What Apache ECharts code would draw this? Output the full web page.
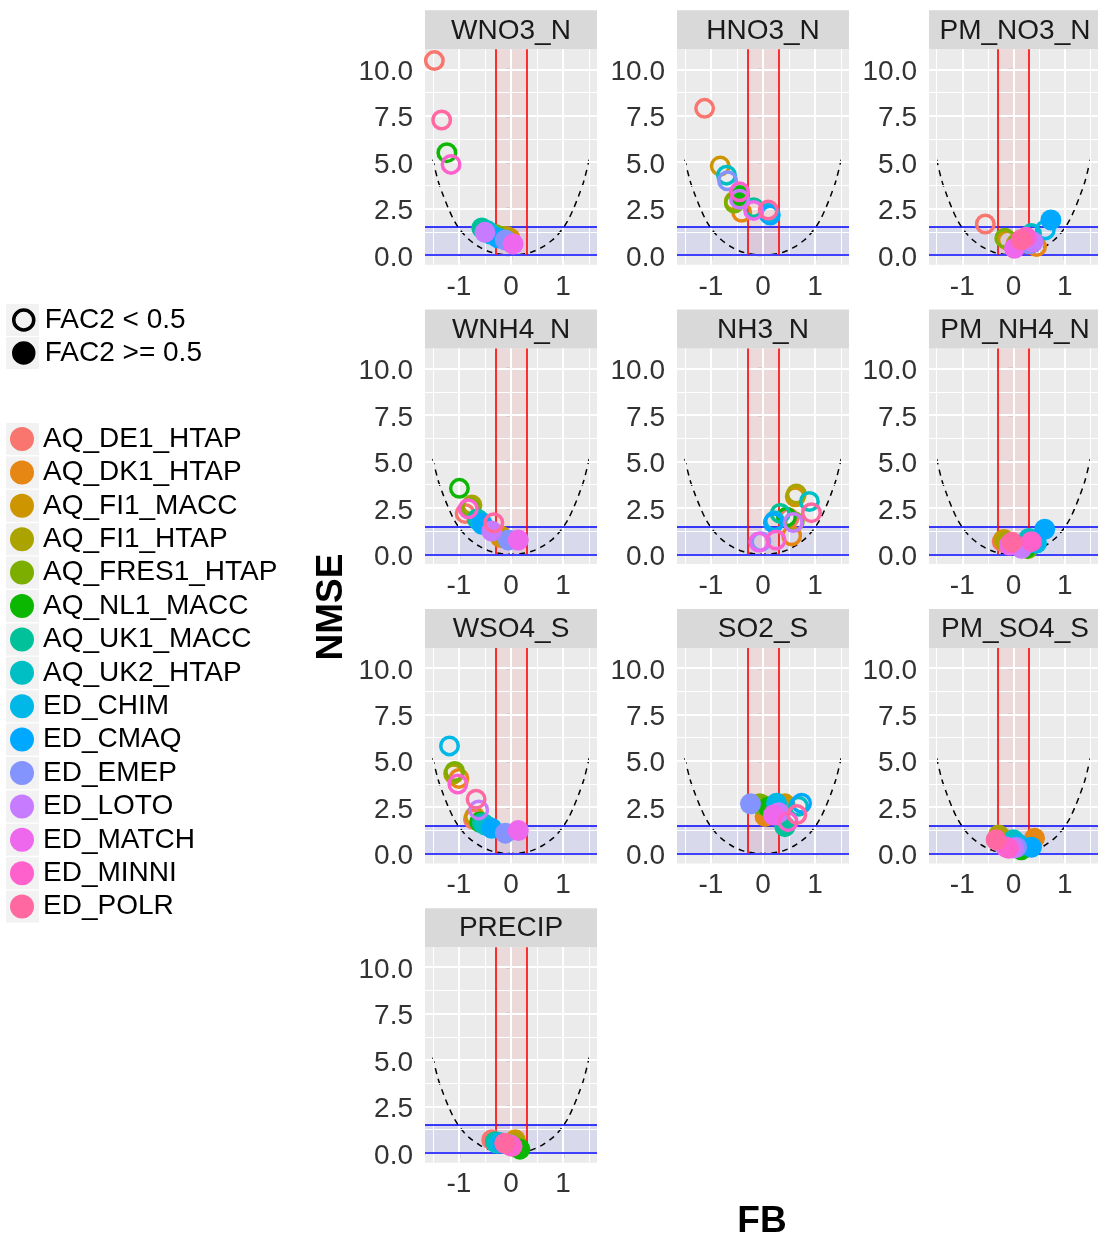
<!DOCTYPE html>
<html><head><meta charset="utf-8">
<script src="https://cdn.jsdelivr.net/npm/echarts@6/dist/echarts.min.js"></script>
<style>html,body{margin:0;padding:0;background:#fff}#chart{width:1098px;height:1240px}</style>
</head><body><div id="chart"></div>
<script>
// ---------- data ----------
const models = ['AQ_DE1_HTAP','AQ_DK1_HTAP','AQ_FI1_MACC','AQ_FI1_HTAP','AQ_FRES1_HTAP','AQ_NL1_MACC','AQ_UK1_MACC','AQ_UK2_HTAP','ED_CHIM','ED_CMAQ','ED_EMEP','ED_LOTO','ED_MATCH','ED_MINNI','ED_POLR'];
const modelColors = ['#F8766D','#E68613','#CD9600','#ABA300','#7CAE00','#0CB702','#00C19A','#00BFC4','#00B8E7','#00A9FF','#8494FF','#C77CFF','#ED68ED','#FF61CC','#FF68A1'];
const panels = ['WNO3_N','HNO3_N','PM_NO3_N','WNH4_N','NH3_N','PM_NH4_N','WSO4_S','SO2_S','PM_SO4_S','PRECIP'];
const fac2Labels = ['FAC2 < 0.5','FAC2 >= 0.5'];

// FB, NMSE and FAC2 flag (1 = FAC2 >= 0.5) per model, in model order
const fb_WNO3_N   = [-1.47,-0.02,-0.08,-0.15,-0.30,-1.23,-0.56,-0.45,-0.38,-0.25,-0.11,-0.50, 0.04,-1.15,-1.33];
const nmse_WNO3_N = [10.47,0.90,1.00,1.00,1.10,5.51,1.45,1.30,1.10,0.92,0.81,1.22,0.59,4.88,7.27];
const fac2_WNO3_N = [0,1,1,1,1,0,1,1,1,1,1,1,1,0,0];

const fb_HNO3_N   = [-1.12,-0.41,-0.82,-0.55,-0.55,-0.45,-0.18,-0.70, 0.10, 0.14,-0.68,-0.45,-0.18,-0.45, 0.10];
const nmse_HNO3_N = [7.90,2.30,4.79,2.90,2.80,3.20,2.55,4.30,2.25,2.15,4.00,3.00,2.40,3.40,2.42];
const fac2_HNO3_N = [0,0,0,0,0,1,0,0,0,0,0,0,0,0,0];

const fb_PM_NO3_N   = [-0.55,0.45,-0.12,0.05,-0.17,0.10,0.25,0.35,0.62,0.73,0.30,0.38,0.02,0.25,0.15];
const nmse_PM_NO3_N = [1.67,0.45,0.80,0.60,0.90,0.60,0.80,1.15,1.35,1.89,0.60,0.70,0.36,0.95,0.82];
const fac2_PM_NO3_N = [0,0,0,1,0,1,1,0,0,1,1,1,1,1,1];

const fb_WNH4_N   = [-0.88,-0.20,-0.20,-0.75,-0.78,-0.99,-0.65,-0.60,-0.55,-0.56,-0.05,-0.37,0.14,-0.82,-0.33];
const nmse_WNH4_N = [2.20,0.90,1.00,2.65,2.50,3.55,1.90,1.80,1.60,1.67,0.77,1.25,0.77,2.45,1.70];
const fac2_WNH4_N = [0,1,1,0,0,0,1,1,1,1,1,1,1,0,0];

const fb_NH3_N   = [0.50,0.55,0.62,0.64,0.60,0.45,0.33,0.89,0.22,0.20,-0.04,0.58,-0.08,0.25,0.93];
const nmse_NH3_N = [1.95,1.00,3.10,3.25,1.75,2.00,2.20,2.84,1.80,1.70,0.68,1.71,0.66,0.77,2.24];
const fac2_NH3_N = [0,0,0,0,0,0,0,0,0,0,0,0,0,0,0];

const fb_PM_NH4_N   = [-0.22,-0.20,-0.19,-0.15,0.28,0.25,0.28,0.30,0.45,0.61,0.15,0.16,-0.08,0.35,-0.03];
const nmse_PM_NH4_N = [0.68,0.75,0.80,0.70,0.30,0.35,0.60,0.85,0.60,1.35,0.35,0.32,0.50,0.68,0.65];
const fac2_PM_NH4_N = [1,1,1,1,1,1,1,1,1,1,1,1,1,1,1];

const fb_WSO4_S   = [-0.72,-1.00,-0.70,-1.10,-1.08,-0.60,-0.55,-0.50,-1.18,-0.37,-0.11,-0.62,0.14,-1.02,-0.67];
const nmse_WSO4_S = [1.85,4.05,2.00,4.30,4.42,1.70,1.65,1.55,5.80,1.36,1.10,2.35,1.24,3.75,2.93];
const fac2_WSO4_S = [0,0,0,0,0,1,1,1,0,1,1,0,1,0,0];

const fb_SO2_S   = [0.30,0.04,0.42,0.00,-0.06,0.10,0.42,0.68,0.26,0.74,-0.24,0.30,0.20,0.48,0.65];
const nmse_SO2_S = [2.30,2.00,2.68,2.60,2.68,2.50,1.45,2.55,2.71,2.71,2.68,2.20,2.08,1.72,2.10];
const fac2_SO2_S = [1,1,1,1,1,1,1,0,1,0,1,1,1,0,0];

const fb_PM_SO4_S   = [-0.30,0.41,-0.25,-0.29,0.15,0.15,0.00,0.00,0.10,0.35,0.06,0.00,-0.15,-0.10,-0.34];
const nmse_PM_SO4_S = [0.80,0.83,0.90,1.00,0.30,0.20,0.60,0.74,0.50,0.34,0.34,0.30,0.35,0.29,0.74];
const fac2_PM_SO4_S = [1,1,1,1,1,1,1,1,1,1,1,1,1,1,1];

const fb_PRECIP   = [-0.37,0.05,0.08,0.10,0.12,0.17,-0.30,-0.27,-0.20,-0.15,-0.05,0.00,-0.02,0.02,-0.12];
const nmse_PRECIP = [0.70,0.60,0.70,0.50,0.30,0.20,0.60,0.52,0.55,0.50,0.45,0.40,0.40,0.35,0.52];
const fac2_PRECIP = [1,1,1,1,1,1,1,1,1,1,1,1,1,1,1];

// dashed reference curve
const curveFB   = [-1.5,-1.4,-1.3,-1.2,-1.1,-1.0,-0.9,-0.8,-0.6,-0.4,-0.2,0,0.2,0.4,0.6,0.8,0.9,1.0,1.1,1.2,1.3,1.4,1.5];
const curveNMSE = [5.14,4.0,3.2,2.5,1.9,1.45,1.1,0.82,0.42,0.16,0.04,0,0.04,0.16,0.42,0.82,1.1,1.45,1.9,2.5,3.2,4.0,5.14];

// reference limits
const fbLimits = [-0.3, 0.3];
const nmseLimits = [0, 1.5];

// ticks
const xTicks = [-1, 0, 1];
const xMinor = [-1.5, -0.5, 0.5, 1.5];
const yTicks = [0, 2.5, 5, 7.5, 10];
const yMinor = [1.25, 3.75, 6.25, 8.75];

const panelData = {
  WNO3_N:[fb_WNO3_N,nmse_WNO3_N,fac2_WNO3_N],
  HNO3_N:[fb_HNO3_N,nmse_HNO3_N,fac2_HNO3_N],
  PM_NO3_N:[fb_PM_NO3_N,nmse_PM_NO3_N,fac2_PM_NO3_N],
  WNH4_N:[fb_WNH4_N,nmse_WNH4_N,fac2_WNH4_N],
  NH3_N:[fb_NH3_N,nmse_NH3_N,fac2_NH3_N],
  PM_NH4_N:[fb_PM_NH4_N,nmse_PM_NH4_N,fac2_PM_NH4_N],
  WSO4_S:[fb_WSO4_S,nmse_WSO4_S,fac2_WSO4_S],
  SO2_S:[fb_SO2_S,nmse_SO2_S,fac2_SO2_S],
  PM_SO4_S:[fb_PM_SO4_S,nmse_PM_SO4_S,fac2_PM_SO4_S],
  PRECIP:[fb_PRECIP,nmse_PRECIP,fac2_PRECIP]
};

// ---------- layout ----------
const FONT = '"Liberation Sans", Arial, sans-serif';
const xMin = -1.65, xMax = 1.65, yMin = -0.53, yMax = 11.08;
const colLeft = [425, 677, 929];
const rowTop = [49.3, 348.6, 647.9, 947.2];
const panelW = 172, panelH = 215.5, stripH = 39;
const tickColor = '#333333';

const grids = [], xAxes = [], yAxes = [], series = [], graphics = [];

const lineMark = (lines) => ({
  silent: true, symbol: ['none','none'], label: {show: false}, emphasis: {disabled: true},
  animation: false, data: lines
});

panels.forEach((name, i) => {
  const r = Math.floor(i / 3), c = i % 3;
  const left = colLeft[c], top = rowTop[r];
  grids.push({left, top, width: panelW, height: panelH, show: true, backgroundColor: '#EBEBEB', borderWidth: 0});
  xAxes.push({
    type: 'value', gridIndex: i, min: xMin, max: xMax,
    splitLine: {show: false}, axisLine: {show: false},
    axisTick: {show: true, customValues: xTicks, length: 5, lineStyle: {color: tickColor, width: 1.2}},
    axisLabel: {customValues: xTicks, fontSize: 28, fontFamily: FONT, color: tickColor, margin: 8,
      formatter: v => String(v)}
  });
  yAxes.push({
    type: 'value', gridIndex: i, min: yMin, max: yMax,
    splitLine: {show: false}, axisLine: {show: false},
    axisTick: {show: true, customValues: yTicks, length: 5, lineStyle: {color: tickColor, width: 1.2}},
    axisLabel: {customValues: yTicks, margin: 12,
      formatter: v => '{v|' + v.toFixed(1) + '}',
      rich: {v: {fontSize: 28, fontFamily: FONT, color: tickColor, padding: [6, 0, 0, 0]}}}
  });
  const white = (w) => ({color: '#FFFFFF', width: w, type: 'solid'});
  // grid lines
  series.push({
    type: 'line', xAxisIndex: i, yAxisIndex: i, data: [], z: 1, silent: true,
    markLine: lineMark([
      ...xMinor.map(v => ({xAxis: v, lineStyle: white(1)})),
      ...yMinor.map(v => ({yAxis: v, lineStyle: white(1)})),
      ...xTicks.map(v => ({xAxis: v, lineStyle: white(2)})),
      ...yTicks.map(v => ({yAxis: v, lineStyle: white(2)}))
    ])
  });
  // shaded areas
  series.push({
    type: 'line', xAxisIndex: i, yAxisIndex: i, data: [], z: 2, silent: true,
    markArea: {
      silent: true, emphasis: {disabled: true}, label: {show: false},
      data: [
        [{coord: [fbLimits[0], nmseLimits[0]], itemStyle: {color: 'rgba(255,0,0,0.075)'}}, {coord: [fbLimits[1], yMax]}],
        [{coord: [xMin, nmseLimits[0]], itemStyle: {color: 'rgba(0,0,255,0.075)'}}, {coord: [xMax, nmseLimits[1]]}]
      ]
    }
  });
  // reference lines
  series.push({
    type: 'line', xAxisIndex: i, yAxisIndex: i, data: [], z: 3, silent: true,
    markLine: lineMark([
      ...nmseLimits.map(v => ({yAxis: v, lineStyle: {color: '#0000FF', width: 1.6, type: 'solid'}})),
      ...fbLimits.map(v => [{coord: [v, nmseLimits[0]], lineStyle: {color: '#FF0000', width: 1.6, type: 'solid'}}, {coord: [v, yMax]}])
    ])
  });
  // dashed curve
  series.push({
    type: 'line', xAxisIndex: i, yAxisIndex: i, z: 4, silent: true, symbol: 'none', smooth: 0.3,
    data: curveFB.map((x, k) => [x, curveNMSE[k]]),
    lineStyle: {color: '#000', width: 1.5, type: [6, 5]}
  });
  // points
  const [fb, nmse, fac2] = panelData[name];
  series.push({
    type: 'scatter', name: name, xAxisIndex: i, yAxisIndex: i, z: 5,
    data: fb.map((x, k) => ({
      value: [x, nmse[k]],
      symbolSize: fac2[k] ? 21 : 17.5,
      itemStyle: fac2[k]
        ? {color: modelColors[k], opacity: 1}
        : {color: 'rgba(0,0,0,0)', borderColor: modelColors[k], borderWidth: 3.5, opacity: 1}
    }))
  });
  // strip
  graphics.push({type: 'rect', shape: {x: left, y: top - stripH, width: panelW, height: stripH}, style: {fill: '#D9D9D9'}, silent: true});
  graphics.push({type: 'text', x: left + panelW / 2, y: top - stripH / 2 + 1, silent: true,
    style: {text: name, font: '28px ' + FONT, fill: '#1A1A1A', align: 'center', verticalAlign: 'middle'}});
});

// legend dummy series
models.forEach((m, k) => series.push({type: 'scatter', name: m, xAxisIndex: 0, yAxisIndex: 0, data: [], itemStyle: {color: modelColors[k], opacity: 1}}));
series.push({type: 'scatter', name: fac2Labels[0], xAxisIndex: 0, yAxisIndex: 0, data: [], itemStyle: {color: 'rgba(0,0,0,0)', borderColor: '#000', borderWidth: 3.5, opacity: 1}});
series.push({type: 'scatter', name: fac2Labels[1], xAxisIndex: 0, yAxisIndex: 0, data: [], itemStyle: {color: '#000', opacity: 1}});

// legend layout (row centres and spacing)
const fFirstCenter = 320, fRow = 33, fIcon = 20;
const mFirstCenter = 439, mRow = 33.4, mIcon = 24;
const textRowH = 28, legPad = 5;
fac2Labels.forEach((l, k) => {
  const cy = fFirstCenter + k * fRow;
  graphics.push({type: 'rect', shape: {x: 6, y: cy - 16, width: 33, height: 32}, style: {fill: '#F2F2F2'}, silent: true});
});
models.forEach((m, k) => {
  const cy = mFirstCenter + k * mRow;
  graphics.push({type: 'rect', shape: {x: 6, y: cy - 16, width: 33, height: 32}, style: {fill: '#F2F2F2'}, silent: true});
});

// axis titles
graphics.push({type: 'text', x: 332, y: 607, rotation: Math.PI / 2, silent: true,
  style: {text: 'NMSE', font: 'bold 37px ' + FONT, fill: '#000', align: 'center', verticalAlign: 'middle'}});
graphics.push({type: 'text', x: 762, y: 1222, silent: true,
  style: {text: 'FB', font: 'bold 37px ' + FONT, fill: '#000', align: 'center', verticalAlign: 'middle'}});

const option = {
  animation: false,
  backgroundColor: '#FFFFFF',
  grid: grids, xAxis: xAxes, yAxis: yAxes, series: series,
  graphic: {elements: graphics},
  legend: [
    {
      orient: 'vertical', left: 22 - fIcon / 2 - legPad, top: fFirstCenter - legPad - textRowH / 2,
      itemWidth: fIcon, itemHeight: fIcon, itemGap: fRow - textRowH, padding: legPad,
      selectedMode: false, z: 10,
      textStyle: {fontSize: 28, fontFamily: FONT, color: '#000', padding: [0, 0, 0, 6]},
      data: [
        {name: fac2Labels[0], icon: 'circle', itemStyle: {color: 'rgba(0,0,0,0)', borderColor: '#000', borderWidth: 3.5, opacity: 1}},
        {name: fac2Labels[1], icon: 'circle', itemStyle: {color: '#000', borderColor: '#000', borderWidth: 3.5, opacity: 1}}
      ]
    },
    {
      orient: 'vertical', left: 22 - mIcon / 2 - legPad, top: mFirstCenter - legPad - textRowH / 2,
      itemWidth: mIcon, itemHeight: mIcon, itemGap: mRow - textRowH, padding: legPad,
      selectedMode: false, z: 10,
      textStyle: {fontSize: 28, fontFamily: FONT, color: '#000', padding: [0, 0, 0, 4]},
      data: models.map((m, k) => ({name: m, icon: 'circle', itemStyle: {color: modelColors[k], borderWidth: 0, opacity: 1}}))
    }
  ]
};
const chart = echarts.init(document.getElementById('chart'));
chart.setOption(option);
</script>
</body></html>
